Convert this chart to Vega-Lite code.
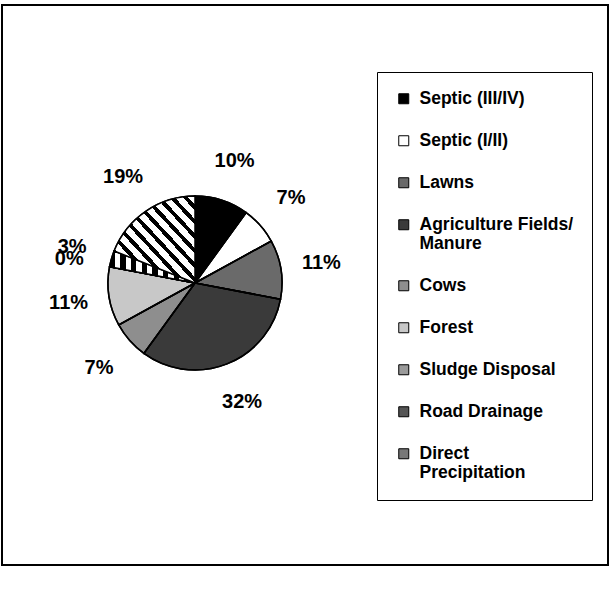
{
  "$schema": "https://vega.github.io/schema/vega-lite/v6.json",
  "width": 606,
  "height": 560,
  "autosize": {"type": "none"},
  "padding": {"left": 2, "top": 5, "right": 2, "bottom": 43},
  "background": "white",
  "config": {
    "font": "Liberation Sans",
    "view": {"stroke": "black", "strokeWidth": 2}
  },
  "data": {
    "values": [
      {"rank": 1, "source": "Septic (III/IV)", "pct": 0.10},
      {"rank": 2, "source": "Septic (I/II)", "pct": 0.07},
      {"rank": 3, "source": "Lawns", "pct": 0.11},
      {"rank": 4, "source": "Agriculture Fields/ Manure", "pct": 0.32},
      {"rank": 5, "source": "Cows", "pct": 0.07},
      {"rank": 6, "source": "Forest", "pct": 0.11},
      {"rank": 7, "source": "Sludge Disposal", "pct": 0.00},
      {"rank": 8, "source": "Road Drainage", "pct": 0.03},
      {"rank": 9, "source": "Direct Precipitation", "pct": 0.19}
    ]
  },
  "encoding": {
    "theta": {"field": "pct", "type": "quantitative", "stack": true},
    "order": {"field": "rank", "type": "quantitative"},
    "x": {"value": 193},
    "y": {"value": 278}
  },
  "layer": [
    {
      "mark": {"type": "arc", "outerRadius": 87, "stroke": "black", "strokeWidth": 1.5},
      "encoding": {
        "fill": {
          "field": "source",
          "type": "nominal",
          "sort": ["Septic (III/IV)", "Septic (I/II)", "Lawns", "Agriculture Fields/ Manure", "Cows", "Forest", "Sludge Disposal", "Road Drainage", "Direct Precipitation"],
          "scale": {
            "domain": ["Septic (III/IV)", "Septic (I/II)", "Lawns", "Agriculture Fields/ Manure", "Cows", "Forest", "Sludge Disposal", "Road Drainage", "Direct Precipitation"],
            "range": ["#000000", "#ffffff", "#6a6a6a", "#3a3a3a", "#8e8e8e", "#c8c8c8", "#9a9a9a", "#555555", "#777777"]
          },
          "legend": {
            "title": null,
            "orient": "none",
            "legendX": 375,
            "legendY": 67,
            "direction": "vertical",
            "padding": 18,
            "strokeColor": "black",
            "fillColor": "white",
            "symbolType": "square",
            "symbolSize": 100,
            "symbolStrokeColor": "black",
            "symbolStrokeWidth": 1,
            "labelFont": "Liberation Sans",
            "labelFontSize": 17.5,
            "labelFontWeight": "bold",
            "labelColor": "black",
            "labelOffset": 7,
            "labelLimit": 300,
            "rowPadding": 23,
            "labelExpr": "datum.label == 'Agriculture Fields/ Manure' ? ['Agriculture Fields/', 'Manure'] : datum.label == 'Direct Precipitation' ? ['Direct', 'Precipitation'] : datum.label"
          }
        }
      }
    },
    {
      "mark": {"type": "arc", "outerRadius": 87, "stroke": "black", "strokeWidth": 1.5},
      "encoding": {
        "fill": {
          "condition": [
            {"test": "datum.source === 'Road Drainage'", "value": {"gradient": "linear", "x1": 0, "y1": 0, "x2": 1, "y2": 0, "stops": [
                {"offset": 0, "color": "#000000"}, {"offset": 0.0625, "color": "#000000"}, {"offset": 0.0625, "color": "#ffffff"}, {"offset": 0.125, "color": "#ffffff"},
                {"offset": 0.125, "color": "#000000"}, {"offset": 0.1875, "color": "#000000"}, {"offset": 0.1875, "color": "#ffffff"}, {"offset": 0.25, "color": "#ffffff"},
                {"offset": 0.25, "color": "#000000"}, {"offset": 0.3125, "color": "#000000"}, {"offset": 0.3125, "color": "#ffffff"}, {"offset": 0.375, "color": "#ffffff"},
                {"offset": 0.375, "color": "#000000"}, {"offset": 0.4375, "color": "#000000"}, {"offset": 0.4375, "color": "#ffffff"}, {"offset": 0.5, "color": "#ffffff"},
                {"offset": 0.5, "color": "#000000"}, {"offset": 0.5625, "color": "#000000"}, {"offset": 0.5625, "color": "#ffffff"}, {"offset": 0.625, "color": "#ffffff"},
                {"offset": 0.625, "color": "#000000"}, {"offset": 0.6875, "color": "#000000"}, {"offset": 0.6875, "color": "#ffffff"}, {"offset": 0.75, "color": "#ffffff"},
                {"offset": 0.75, "color": "#000000"}, {"offset": 0.8125, "color": "#000000"}, {"offset": 0.8125, "color": "#ffffff"}, {"offset": 0.875, "color": "#ffffff"},
                {"offset": 0.875, "color": "#000000"}, {"offset": 0.9375, "color": "#000000"}, {"offset": 0.9375, "color": "#ffffff"}, {"offset": 1, "color": "#ffffff"}
              ]}},
            {"test": "datum.source === 'Direct Precipitation'", "value": {"gradient": "linear", "x1": 0, "y1": 1, "x2": 1, "y2": 0, "stops": [
                {"offset": 0, "color": "#000000"}, {"offset": 0.0333, "color": "#000000"}, {"offset": 0.0333, "color": "#ffffff"}, {"offset": 0.0833, "color": "#ffffff"},
                {"offset": 0.0833, "color": "#000000"}, {"offset": 0.1167, "color": "#000000"}, {"offset": 0.1167, "color": "#ffffff"}, {"offset": 0.1667, "color": "#ffffff"},
                {"offset": 0.1667, "color": "#000000"}, {"offset": 0.2, "color": "#000000"}, {"offset": 0.2, "color": "#ffffff"}, {"offset": 0.25, "color": "#ffffff"},
                {"offset": 0.25, "color": "#000000"}, {"offset": 0.2833, "color": "#000000"}, {"offset": 0.2833, "color": "#ffffff"}, {"offset": 0.3333, "color": "#ffffff"},
                {"offset": 0.3333, "color": "#000000"}, {"offset": 0.3667, "color": "#000000"}, {"offset": 0.3667, "color": "#ffffff"}, {"offset": 0.4167, "color": "#ffffff"},
                {"offset": 0.4167, "color": "#000000"}, {"offset": 0.45, "color": "#000000"}, {"offset": 0.45, "color": "#ffffff"}, {"offset": 0.5, "color": "#ffffff"},
                {"offset": 0.5, "color": "#000000"}, {"offset": 0.5333, "color": "#000000"}, {"offset": 0.5333, "color": "#ffffff"}, {"offset": 0.5833, "color": "#ffffff"},
                {"offset": 0.5833, "color": "#000000"}, {"offset": 0.6167, "color": "#000000"}, {"offset": 0.6167, "color": "#ffffff"}, {"offset": 0.6667, "color": "#ffffff"},
                {"offset": 0.6667, "color": "#000000"}, {"offset": 0.7, "color": "#000000"}, {"offset": 0.7, "color": "#ffffff"}, {"offset": 0.75, "color": "#ffffff"},
                {"offset": 0.75, "color": "#000000"}, {"offset": 0.7833, "color": "#000000"}, {"offset": 0.7833, "color": "#ffffff"}, {"offset": 0.8333, "color": "#ffffff"},
                {"offset": 0.8333, "color": "#000000"}, {"offset": 0.8667, "color": "#000000"}, {"offset": 0.8667, "color": "#ffffff"}, {"offset": 0.9167, "color": "#ffffff"},
                {"offset": 0.9167, "color": "#000000"}, {"offset": 0.95, "color": "#000000"}, {"offset": 0.95, "color": "#ffffff"}, {"offset": 1, "color": "#ffffff"}
              ]}}
          ],
          "value": "transparent"
        }
      }
    },
    {
      "mark": {"type": "text", "radius": 128, "font": "Liberation Sans", "fontSize": 20, "fontWeight": "bold", "fill": "black"},
      "encoding": {
        "text": {"field": "pct", "type": "quantitative", "format": ".0%"}
      }
    }
  ]
}
